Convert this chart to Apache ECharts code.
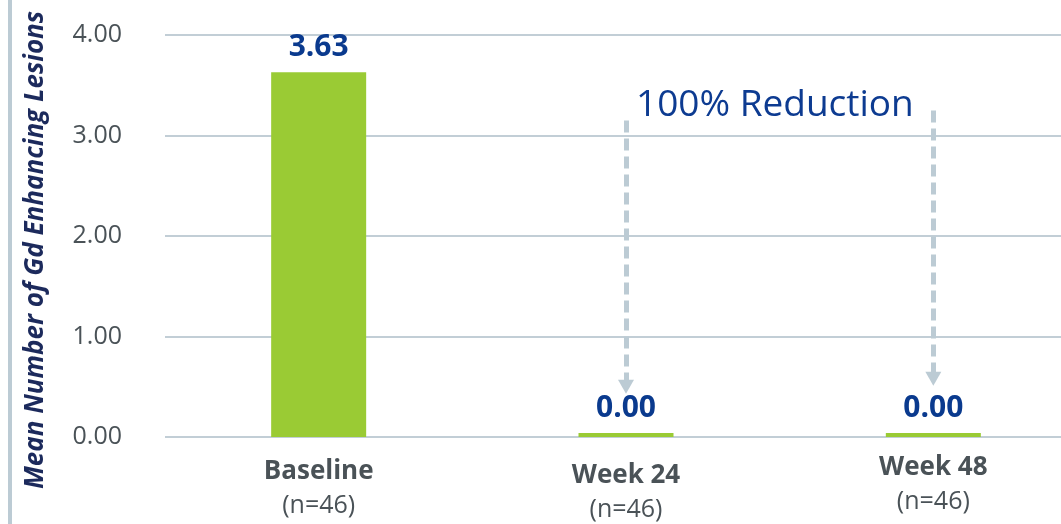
<!DOCTYPE html>
<html><head><meta charset="utf-8">
<script src="https://cdn.jsdelivr.net/npm/echarts@6/dist/echarts.min.js"></script>
<style>html,body{margin:0;padding:0;background:#fff}#c{width:1061px;height:524px}</style>
</head><body><div id="c"></div>
<script>
const categories = ['Baseline', 'Week 24', 'Week 48'];
const nLabels = ['(n=46)', '(n=46)', '(n=46)'];
const meanLesions = [3.63, 0.00, 0.00];
const yTicks = [0, 1, 2, 3, 4];
const arrowW24 = [3.15, 0.50];
const arrowW48 = [3.25, 0.58];
const annotation = '100% Reduction';
const yTitle = 'Mean Number of Gd Enhancing Lesions';

const font = '"Open Sans", "Noto Sans", sans-serif';
const labelPad = [[4, 0, 0, 0], [8, 0, 0, 0], [0, 0, 0, 0]];
const chart = echarts.init(document.getElementById('c'));
chart.setOption({
  animation: false,
  grid: { left: 165, top: 35, width: 922, height: 402, outerBoundsMode: 'none', containLabel: false },
  xAxis: {
    type: 'category',
    data: categories.map((c, i) => ({ value: c + '\n' + nLabels[i], textStyle: { padding: labelPad[i] } })),
    axisLine: { show: false }, axisTick: { show: false },
    axisLabel: {
      margin: 14,
      formatter: (v) => { const p = v.split('\n'); return '{b|' + p[0] + '}\n{n|' + p[1] + '}'; },
      rich: {
        b: { fontFamily: font, fontWeight: 'bold', fontSize: 26, color: '#4a5257', lineHeight: 34 },
        n: { fontFamily: font, fontSize: 25, color: '#4a5257', lineHeight: 34 }
      }
    }
  },
  yAxis: {
    type: 'value', min: yTicks[0], max: yTicks[yTicks.length - 1], interval: 1,
    axisLine: { show: false }, axisTick: { show: false },
    axisLabel: { margin: 43, fontFamily: font, fontSize: 25, color: '#4a5257', formatter: v => v.toFixed(2) },
    splitLine: { lineStyle: { color: '#c2ced6', width: 2 } }
  },
  series: [{
    type: 'bar',
    data: meanLesions,
    barWidth: 95,
    barMinHeight: 4,
    itemStyle: { color: '#9acb34' },
    label: {
      show: true, position: 'top', distance: 10,
      fontFamily: font, fontWeight: 'bold', fontSize: 30, color: '#0a3a8e',
      formatter: p => p.value.toFixed(2)
    },
    markLine: {
      silent: true,
      symbol: ['none', 'triangle'],
      symbolSize: [16, 14],
      lineStyle: { color: '#bccbd4', width: 5, type: [12, 6] },
      label: { show: false },
      data: [
        [{ coord: [1, arrowW24[0]] }, { coord: [1, arrowW24[1]] }],
        [{ coord: [2, arrowW48[0]] }, { coord: [2, arrowW48[1]] }]
      ]
    }
  }],
  graphic: [
    { type: 'rect', left: 8, top: 0, shape: { width: 4, height: 524 }, style: { fill: '#bccbd4' } },
    { type: 'text', x: 636, y: 105, style: { text: annotation, font: '37px ' + font, fill: '#0d3b91', textVerticalAlign: 'middle' } },
    { type: 'text', x: 36, y: 250, rotation: Math.PI / 2,
      style: { text: yTitle, font: 'italic bold 26px ' + font, fill: '#1c2a5c', textAlign: 'center', textVerticalAlign: 'middle' } }
  ]
});
</script></body></html>
